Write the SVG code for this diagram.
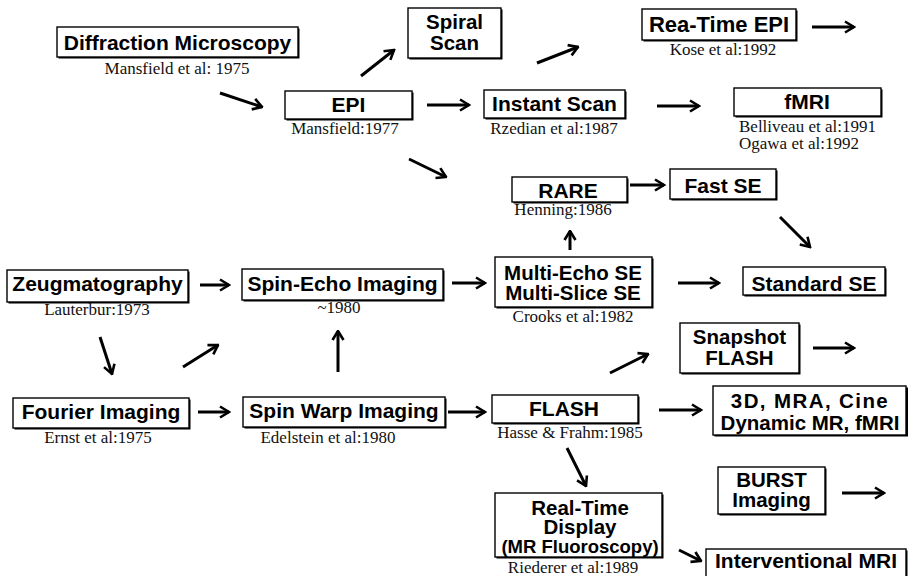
<svg xmlns="http://www.w3.org/2000/svg" width="908" height="576" viewBox="0 0 908 576">
<style>
.bx{fill:#fff;stroke:#000;stroke-width:1.4}
.sh{fill:#000}
.t{font-family:"Liberation Sans",Arial,sans-serif;font-weight:bold;font-size:21px;text-anchor:middle;fill:#000}
.m{font-size:20.5px}
.s{font-family:"Liberation Serif","Times New Roman",serif;font-size:17px;text-anchor:middle;fill:#111}
.sl{text-anchor:start}
.c line{stroke:#000;stroke-width:3;marker-end:url(#ah)}
</style>
<defs>
<marker id="ah" viewBox="0 0 12 14" refX="10.5" refY="7" markerWidth="12" markerHeight="14" markerUnits="userSpaceOnUse" orient="auto">
<path d="M1.5,1.5 L10.5,7 L1.5,12.5" fill="none" stroke="#000" stroke-width="2.6" stroke-linejoin="miter"/>
</marker>
</defs>
<rect width="908" height="576" fill="#fff"/>

<g id="diffraction"><rect class="sh" x="58.5" y="28.5" width="241" height="30"/><rect class="bx" x="57" y="27" width="241" height="30"/><text class="t" x="177.5" y="50">Diffraction Microscopy</text><text class="s" x="177" y="74">Mansfield et al: 1975</text></g>
<g id="spiral"><rect class="sh" x="409.5" y="9.5" width="93" height="50"/><rect class="bx" x="408" y="8" width="93" height="50"/><text class="t m" x="454.5" y="29">Spiral</text><text class="t m" x="454.5" y="50">Scan</text></g>
<g id="epi"><rect class="sh" x="286.5" y="92.5" width="127" height="28"/><rect class="bx" x="285" y="91" width="127" height="28"/><text class="t" x="348.5" y="112">EPI</text><text class="s" x="345" y="134">Mansfield:1977</text></g>
<g id="instant"><rect class="sh" x="485.5" y="91.5" width="141" height="28"/><rect class="bx" x="484" y="90" width="141" height="28"/><text class="t" x="554.5" y="111">Instant Scan</text><text class="s" x="554" y="134">Rzedian et al:1987</text></g>
<g id="rtepi"><rect class="sh" x="643.5" y="10.5" width="154" height="31"/><rect class="bx" x="642" y="9" width="154" height="31"/><text class="t" x="719" y="32" style="font-size:22px">Rea-Time EPI</text><text class="s" x="723" y="55">Kose et al:1992</text></g>
<g id="fmri"><rect class="sh" x="735.5" y="89.5" width="147" height="28"/><rect class="bx" x="734" y="88" width="147" height="28"/><text class="t" x="807" y="109">fMRI</text><text class="s sl" x="739" y="132">Belliveau et al:1991</text><text class="s sl" x="739" y="149">Ogawa et al:1992</text></g>
<g id="rare"><rect class="sh" x="513.5" y="178.5" width="115" height="25"/><rect class="bx" x="512" y="177" width="115" height="25"/><text class="t" x="568" y="198">RARE</text><text class="s" x="563" y="215">Henning:1986</text></g>
<g id="fastse"><rect class="sh" x="671.5" y="170.5" width="106" height="30"/><rect class="bx" x="670" y="169" width="106" height="30"/><text class="t" x="723" y="193">Fast SE</text></g>
<g id="multi"><rect class="sh" x="496.5" y="258.5" width="157" height="50"/><rect class="bx" x="495" y="257" width="157" height="50"/><text class="t m" x="573" y="280">Multi-Echo SE</text><text class="t m" x="573" y="300">Multi-Slice SE</text><text class="s" x="573" y="322">Crooks et al:1982</text></g>
<g id="standard"><rect class="sh" x="744.5" y="268.5" width="142" height="28"/><rect class="bx" x="743" y="267" width="142" height="28"/><text class="t" x="814" y="291">Standard SE</text></g>
<g id="zeug"><rect class="sh" x="8.5" y="271.5" width="181" height="32"/><rect class="bx" x="7" y="270" width="181" height="32"/><text class="t" x="97.5" y="291">Zeugmatography</text><text class="s" x="97" y="315">Lauterbur:1973</text></g>
<g id="spinecho"><rect class="sh" x="243.5" y="270.5" width="201" height="31"/><rect class="bx" x="242" y="269" width="201" height="31"/><text class="t" x="342.5" y="291">Spin-Echo Imaging</text><text class="s" x="339" y="313">~1980</text></g>
<g id="fourier"><rect class="sh" x="14.5" y="399.5" width="176" height="30"/><rect class="bx" x="13" y="398" width="176" height="30"/><text class="t" x="101" y="419">Fourier Imaging</text><text class="s" x="98" y="443">Ernst et al:1975</text></g>
<g id="spinwarp"><rect class="sh" x="244.5" y="398.5" width="202" height="30"/><rect class="bx" x="243" y="397" width="202" height="30"/><text class="t" x="344" y="418">Spin Warp Imaging</text><text class="s" x="328" y="443">Edelstein et al:1980</text></g>
<g id="flash"><rect class="sh" x="493.5" y="396.5" width="146" height="28"/><rect class="bx" x="492" y="395" width="146" height="28"/><text class="t" x="564" y="416">FLASH</text><text class="s" x="570" y="438">Hasse &amp; Frahm:1985</text></g>
<g id="snapshot"><rect class="sh" x="681.5" y="324.5" width="119" height="50"/><rect class="bx" x="680" y="323" width="119" height="50"/><text class="t m" x="739.5" y="344">Snapshot</text><text class="t m" x="739.5" y="365">FLASH</text></g>
<g id="threed"><rect class="sh" x="714.5" y="387.5" width="194" height="49"/><rect class="bx" x="713" y="386" width="193" height="49"/><text class="t m" x="810" y="408" style="letter-spacing:1.4px">3D, MRA, Cine</text><text class="t m" x="810" y="430">Dynamic MR, fMRI</text></g>
<g id="burst"><rect class="sh" x="719.5" y="468.5" width="107" height="47"/><rect class="bx" x="718" y="467" width="107" height="47"/><text class="t m" x="771.5" y="487">BURST</text><text class="t m" x="771.5" y="507">Imaging</text></g>
<g id="rtdisplay"><rect class="sh" x="496.5" y="494.5" width="167" height="64"/><rect class="bx" x="495" y="493" width="167" height="64"/><text class="t m" x="580" y="515">Real-Time</text><text class="t m" x="580" y="534">Display</text><text class="t" x="580" y="553" style="font-size:18.5px">(MR Fluoroscopy)</text><text class="s" x="573" y="573">Riederer et al:1989</text></g>
<g id="interventional"><rect class="sh" x="707.5" y="550.5" width="200" height="30"/><rect class="bx" x="706" y="549" width="200" height="30"/><text class="t" x="806" y="568">Interventional MRI</text></g>

<g class="c" id="connectors">
<line x1="220" y1="93" x2="262" y2="107"/>
<line x1="361" y1="76" x2="394" y2="50"/>
<line x1="537" y1="63" x2="578" y2="47"/>
<line x1="812" y1="27" x2="854" y2="27"/>
<line x1="427" y1="105" x2="469" y2="105"/>
<line x1="657" y1="106" x2="699" y2="106"/>
<line x1="409" y1="159" x2="446" y2="177"/>
<line x1="630" y1="185" x2="664" y2="185"/>
<line x1="780" y1="217" x2="810" y2="247"/>
<line x1="570" y1="250" x2="570" y2="231"/>
<line x1="678" y1="283" x2="719" y2="283"/>
<line x1="200" y1="285" x2="229" y2="285"/>
<line x1="452" y1="283" x2="485" y2="283"/>
<line x1="100" y1="337" x2="112" y2="374"/>
<line x1="183" y1="367" x2="218" y2="345"/>
<line x1="338" y1="372" x2="338" y2="331"/>
<line x1="198" y1="412" x2="229" y2="412"/>
<line x1="448" y1="412" x2="485" y2="412"/>
<line x1="610" y1="373" x2="648" y2="354"/>
<line x1="813" y1="348" x2="854" y2="348"/>
<line x1="659" y1="410" x2="701" y2="410"/>
<line x1="567" y1="448" x2="586" y2="486"/>
<line x1="679" y1="550" x2="701" y2="561"/>
<line x1="842" y1="493" x2="884" y2="493"/>
</g>
</svg>
